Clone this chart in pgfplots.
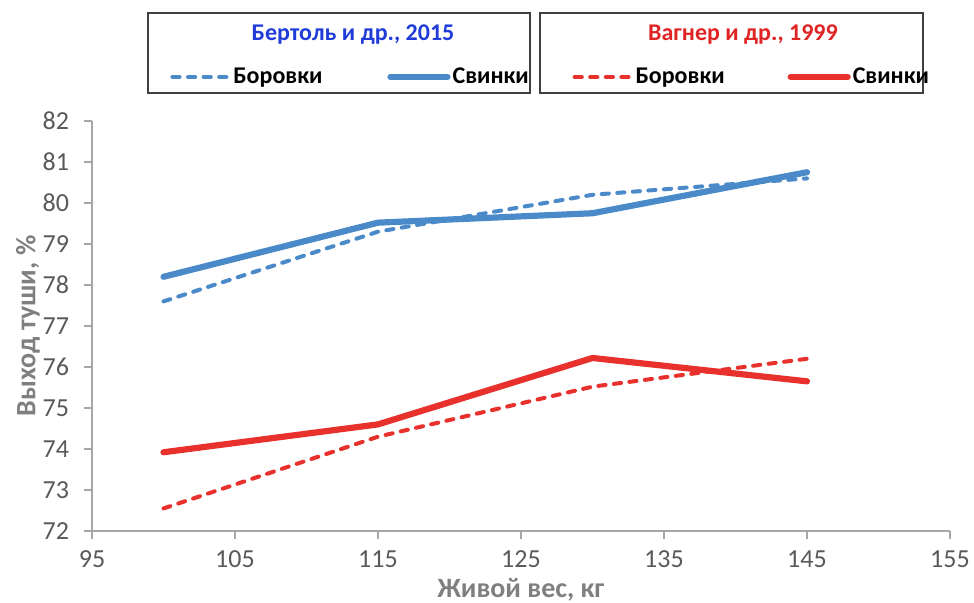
\documentclass[border=0pt]{standalone}
\usepackage{fontspec}
\setmainfont{Carlito}
\usepackage{pgfplots}
\pgfplotsset{compat=1.18}
\definecolor{lblue}{HTML}{4A8AC8}
\definecolor{lred}{HTML}{E8312C}
\definecolor{tblue}{HTML}{1F3BD8}
\definecolor{tred}{HTML}{E02424}
\definecolor{axisgray}{HTML}{A6A6A6}
\definecolor{tickgray}{HTML}{595959}
\definecolor{labgray}{HTML}{7F7F7F}
\definecolor{boxgray}{HTML}{404040}
\begin{document}
\begin{tikzpicture}
\useasboundingbox (-46pt,-36pt) rectangle (441pt,265.5pt);
\begin{axis}[
  at={(0pt,0pt)}, anchor=south west,
  width=429pt, height=205pt, scale only axis,
  xmin=95, xmax=155, ymin=72, ymax=82,
  xtick={95,105,...,155}, ytick={72,73,...,82},
  axis lines*=left,
  axis line style={axisgray, line width=0.7pt},
  tick align=outside, major tick length=4pt,
  tick style={axisgray, line width=0.7pt},
  ticklabel style={font=\fontsize{13}{14}\selectfont, text=tickgray},
  yticklabel style={xshift=-4pt},
  xticklabel style={yshift=-4.5pt, inner ysep=1pt},
  /pgf/number format/assume math mode=true,
  xlabel={\bfseries Живой вес, кг},
  ylabel={\bfseries Выход туши, \%},
  label style={font=\fontsize{14}{15}\selectfont, text=labgray},
  xlabel style={at={(axis description cs:0.5,-0.143)}, anchor=center, inner sep=1pt},
  ylabel style={at={(axis description cs:-0.0746,0.5)}, anchor=center},
  clip=false,
  legend columns=4,
  legend style={draw=none, fill=none, at={(axis description cs:0.0909,1.1073)}, anchor=west,
    font=\bfseries\fontsize{12}{13}\selectfont, inner sep=0pt,
    nodes={inner xsep=1pt, inner ysep=1pt},
    /tikz/every even column/.append style={column sep=0pt}},
  legend cell align=left,
  legend image code/.code={\draw[#1] (0pt,0pt) -- (28.5pt,0pt);},
]
\addplot[lblue, line width=2pt, line cap=round, dash pattern=on 3.6pt off 4.2pt] coordinates {(100,77.6) (115,79.3) (130,80.2) (145,80.6)};
\addlegendentry[text width=76pt]{Боровки}
\addplot[lblue, line width=3.1pt, line cap=round, line join=round] coordinates {(100,78.2) (115,79.52) (130,79.75) (145,80.75)};
\addlegendentry[text width=59pt]{Свинки}
\addplot[lred, line width=2pt, line cap=round, dash pattern=on 3.6pt off 4.2pt] coordinates {(100,72.55) (115,74.3) (130,75.52) (145,76.2)};
\addlegendentry[text width=75pt]{Боровки}
\addplot[lred, line width=3.1pt, line cap=round, line join=round] coordinates {(100,73.92) (115,74.6) (130,76.22) (145,75.65)};
\addlegendentry{Свинки}
\draw[boxgray, line width=0.9pt] (axis description cs:0.0653,1.0683) rectangle (axis description cs:0.5105,1.2634);
\draw[boxgray, line width=0.9pt] (axis description cs:0.5221,1.0683) rectangle (axis description cs:0.9685,1.2634);
\node[font=\bfseries\fontsize{12}{13}\selectfont, text=tblue] at (axis description cs:0.3042,1.2098) {Бертоль и др., 2015};
\node[font=\bfseries\fontsize{12}{13}\selectfont, text=tred] at (axis description cs:0.7587,1.2098) {Вагнер и др., 1999};
\end{axis}
\end{tikzpicture}
\end{document}
